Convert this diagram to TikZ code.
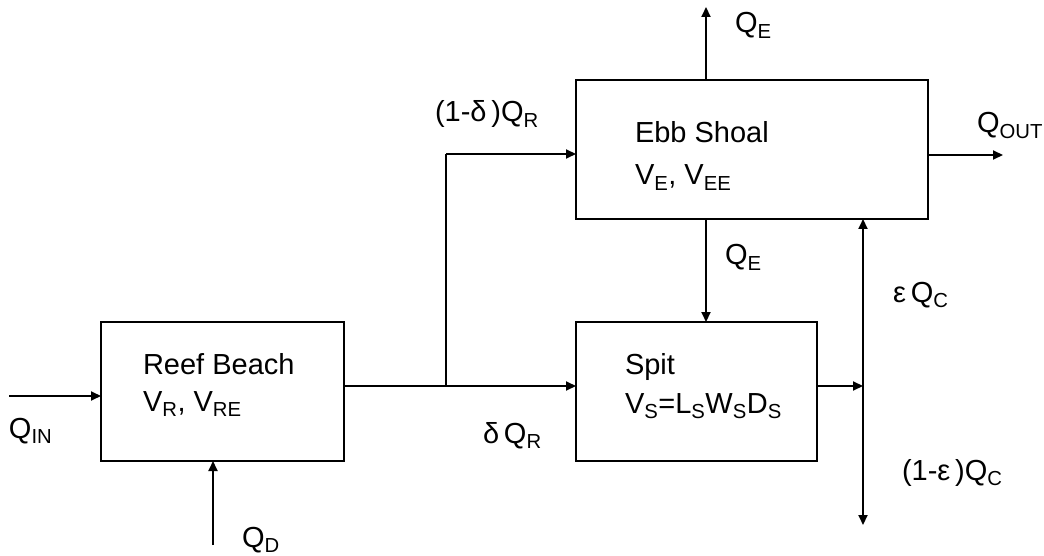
\documentclass[tikz,border=0pt]{standalone}
\usepackage{fontspec}
\setmainfont{Liberation Sans}
\usetikzlibrary{arrows.meta}
\newcommand{\sbs}[1]{\textsubscript{#1}}
\begin{document}
\begin{tikzpicture}[x=1pt,y=-1pt,
  every node/.style={inner sep=0pt,outer sep=0pt},
  box/.style={draw,line width=1.6pt,rectangle,anchor=north west},
  lbl/.style={anchor=base west,font=\fontsize{29}{34}\selectfont},
  flow/.style={line width=2pt,-{Triangle[length=10pt,width=9pt]}},
  plain/.style={line width=2pt}]
\useasboundingbox (0,0) rectangle (1044,556);
% boxes
\node[box,minimum width=243pt,minimum height=139pt] (rb) at (101,322) {};
\node[box,minimum width=352pt,minimum height=139pt] (eb) at (576,80) {};
\node[box,minimum width=241pt,minimum height=139pt] (sp) at (576,322) {};
% box texts
\node[lbl] (rbt) at (143,374) {Reef Beach};
\node[lbl] (rbv) at (143,411) {V\sbs{R}, V\sbs{RE}};
\node[lbl] (ebt) at (635,143) {Ebb Shoal};
\node[lbl] (ebv) at (635,185) {V\sbs{E}, V\sbs{EE}};
\node[lbl] (spt) at (625,374) {Spit};
\node[lbl] (spv) at (625,413) {V\sbs{S}=L\sbs{S}W\sbs{S}D\sbs{S}};
% coordinates
\coordinate (qin) at (9,396);
\coordinate (qd) at (213,545);
\coordinate (split) at (446,386);
\coordinate (up) at (446,154);
\coordinate (qe) at (706,7);
\coordinate (qout) at (1003,155);
\coordinate (vc) at (863,386);
\coordinate (vtop) at (863,219);
\coordinate (vbot) at (863,525);
% connectors
\draw[flow] (qin) -- (qin -| rb.west);
\draw[flow] (qd) -- (qd |- rb.south);
\draw[plain] (split -| rb.east) -- (split);
\draw[flow] (split) -- (split -| sp.west);
\draw[plain] (split) -- (up);
\draw[flow] (up) -- (up -| eb.west);
\draw[flow] (qe |- eb.north) -- (qe);
\draw[flow] (qout -| eb.east) -- (qout);
\draw[flow] (qe |- eb.south) -- (qe |- sp.north);
\draw[flow] (vc -| sp.east) -- (vc);
\draw[flow] (vc) -- (vtop);
\draw[flow] (vc) -- (vbot);
% labels
\node[lbl] (lqin) at (9,438) {Q\sbs{IN}};
\node[lbl] (lqd) at (242,547) {Q\sbs{D}};
\node[lbl] (l1d) at (435,122) {(1-δ\,)Q\sbs{R}};
\node[lbl] (ldq) at (483,443) {δ\,Q\sbs{R}};
\node[lbl] (lqe1) at (735,33) {Q\sbs{E}};
\node[lbl] (lqout) at (977,133) {Q\sbs{OUT}};
\node[lbl] (lqe2) at (725,265) {Q\sbs{E}};
\node[lbl] (leq) at (893,302) {ε\,Q\sbs{C}};
\node[lbl] (l1e) at (902,480) {(1-ε\,)Q\sbs{C}};
\end{tikzpicture}
\end{document}
